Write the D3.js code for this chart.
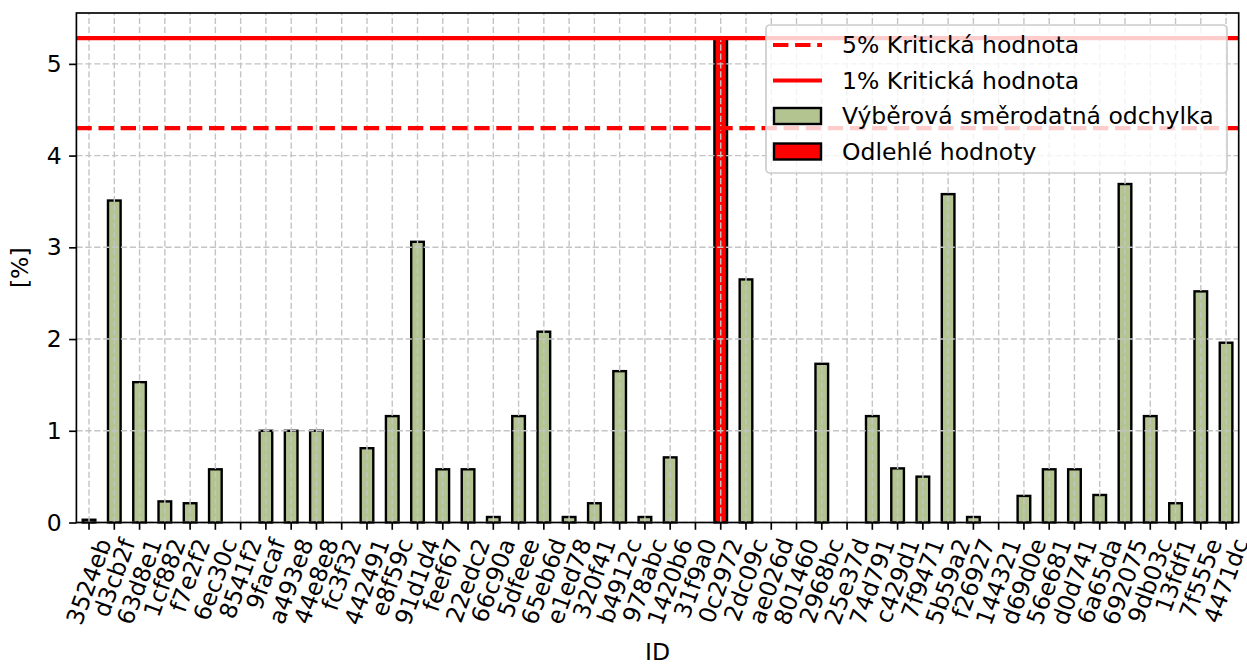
<!DOCTYPE html>
<html>
<head>
<meta charset="utf-8">
<script src="https://cdn.jsdelivr.net/npm/d3@7"></script>
<style>
  html, body { margin: 0; padding: 0; background: #fff; }
  svg { display: block; font-family: "DejaVu Sans", sans-serif; }
</style>
</head>
<body>
<svg id="chart" width="1247" height="665"></svg>
<script>
// ---- data ----
const ids = ["3524eb","d3cb2f","63d8e1","1cf882","f7e2f2","6ec30c","8541f2","9facaf","a493e8","44e8e8",
  "fc3f32","442491","e8f59c","91d1d4","feef67","22edc2","66c90a","5dfeee","65eb6d","e1ed78",
  "320f41","b4912c","978abc","1420b6","31f9a0","0c2972","2dc09c","ae026d","801460","2968bc",
  "25e37d","74d791","c429d1","7f9471","5b59a2","f26927","144321","d69d0e","56e681","d0d741",
  "6a65da","692075","9db03c","13fdf1","7f555e","4471dc"];
const stdValues = [0.03,3.51,1.53,0.23,0.21,0.58,0,1.00,1.00,1.00,
  0,0.81,1.16,3.06,0.58,0.58,0.06,1.16,2.08,0.06,
  0.21,1.65,0.06,0.71,0,5.29,2.65,0,0,1.73,
  0,1.16,0.59,0.50,3.58,0.06,0,0.29,0.58,0.58,
  0.30,3.69,1.16,0.21,2.52,1.96];
const outlierIds = ["0c2972"];
const crit5 = 4.30;
const crit1 = 5.28;
const yTicks = [0,1,2,3,4,5];
const legendLabels = ["5% Kritická hodnota","1% Kritická hodnota","Výběrová směrodatná odchylka","Odlehlé hodnoty"];
const xLabel = "ID";
const yLabel = "[%]";

// ---- layout ----
const L = 76.4, R = 1238.7, T = 13, B = 522.5;
const FS = 23.5;
const green = "#b3c491";
const svg = d3.select("#chart");

const x = d3.scaleBand().domain(ids).range([L, R]).paddingInner(0.5).paddingOuter(0.25);
const yMax = d3.max(stdValues) * 1.05;
const y = d3.scaleLinear().domain([0, yMax]).range([B, T]);

const data = ids.map((id, i) => ({id, v: stdValues[i], out: outlierIds.includes(id)}));

// bars
svg.append("g").selectAll("rect").data(data.filter(d => d.v > 0)).join("rect")
  .attr("x", d => x(d.id))
  .attr("width", x.bandwidth())
  .attr("y", d => y(d.v))
  .attr("height", d => y(0) - y(d.v))
  .attr("fill", d => d.out ? "#ff0000" : green)
  .attr("stroke", "#000")
  .attr("stroke-width", 2.4);

// grid
const grid = svg.append("g").attr("stroke", "#c4c4c4").attr("stroke-width", 1.4)
  .attr("stroke-dasharray", "6.2,2.7");
grid.selectAll("line.v").data(ids).join("line").attr("class","v")
  .attr("x1", d => x(d) + x.bandwidth()/2).attr("x2", d => x(d) + x.bandwidth()/2)
  .attr("y1", B).attr("y2", T);
grid.selectAll("line.h").data(yTicks).join("line").attr("class","h")
  .attr("x1", L).attr("x2", R).attr("y1", d => y(d)).attr("y2", d => y(d));

// critical lines
svg.append("line").attr("x1", L).attr("x2", R).attr("y1", y(crit5)).attr("y2", y(crit5))
  .attr("stroke", "#ff0000").attr("stroke-width", 4.2).attr("stroke-dasharray", "15.4,6.7");
svg.append("line").attr("x1", L).attr("x2", R).attr("y1", y(crit1)).attr("y2", y(crit1))
  .attr("stroke", "#ff0000").attr("stroke-width", 4.2);

// axes
const yAxis = svg.append("g").attr("transform", `translate(${L},0)`)
  .call(d3.axisLeft(y).tickValues(yTicks).tickFormat(d3.format("d")).tickSize(7.3).tickPadding(7.3));
const xAxis = svg.append("g").attr("transform", `translate(0,${B})`)
  .call(d3.axisBottom(x).tickSize(7.3).tickFormat(""));
[yAxis, xAxis].forEach(g => {
  g.select(".domain").remove();
  g.selectAll(".tick line").attr("stroke", "#000").attr("stroke-width", 1.67);
  g.selectAll("text").attr("font-size", FS).attr("font-family", "DejaVu Sans").attr("fill", "#000");
});

// rotated x labels (bbox centered on tick)
const labG = svg.append("g");
const rot = 70 * Math.PI / 180;
ids.forEach(id => {
  const t = labG.append("text").text(id).attr("font-size", FS).attr("fill", "#000")
    .attr("text-anchor", "middle").attr("dominant-baseline", "central");
  const len = t.node().getComputedTextLength();
  const h = FS * 0.95;
  const H = len * Math.sin(rot) + h * Math.cos(rot);
  const cx = x(id) + x.bandwidth()/2;
  const cy = B + 7.3 + 6 + H/2;
  t.attr("transform", `translate(${cx},${cy}) rotate(-70)`);
});

// spines
svg.append("rect").attr("x", L).attr("y", T).attr("width", R - L).attr("height", B - T)
  .attr("fill", "none").attr("stroke", "#000").attr("stroke-width", 1.67);

// axis labels
svg.append("text").text(xLabel).attr("x", (L+R)/2).attr("y", 660).attr("text-anchor", "middle")
  .attr("font-size", FS);
svg.append("text").text(yLabel).attr("transform", `translate(28,${(T+B)/2}) rotate(-90)`)
  .attr("text-anchor", "middle").attr("font-size", FS);

// legend
const lg = svg.append("g");
const lx = 766, ly = 25, lw = 461, lh = 148;
lg.append("rect").attr("x", lx).attr("y", ly).attr("width", lw).attr("height", lh)
  .attr("rx", 4).attr("fill", "#fff").attr("fill-opacity", 0.8)
  .attr("stroke", "#cccccc").attr("stroke-width", 1.67);
const rowY = [45, 80.5, 116, 151.5];
const hx0 = 773, hx1 = 822, tx = 842;
legendLabels.forEach((lab, i) => {
  const cy = rowY[i];
  if (i === 0) {
    lg.append("line").attr("x1", hx0).attr("x2", hx1).attr("y1", cy).attr("y2", cy)
      .attr("stroke", "#ff0000").attr("stroke-width", 4.2).attr("stroke-dasharray", "15.4,6.7");
  } else if (i === 1) {
    lg.append("line").attr("x1", hx0).attr("x2", hx1).attr("y1", cy).attr("y2", cy)
      .attr("stroke", "#ff0000").attr("stroke-width", 4.2);
  } else {
    lg.append("rect").attr("x", hx0 + 1).attr("y", cy - 8).attr("width", hx1 - hx0 - 2).attr("height", 16)
      .attr("fill", i === 2 ? green : "#ff0000").attr("stroke", "#000").attr("stroke-width", 2.4);
  }
  lg.append("text").text(lab).attr("x", tx).attr("y", cy).attr("dominant-baseline", "central")
    .attr("font-size", FS).attr("fill", "#000");
});
</script>
</body>
</html>
